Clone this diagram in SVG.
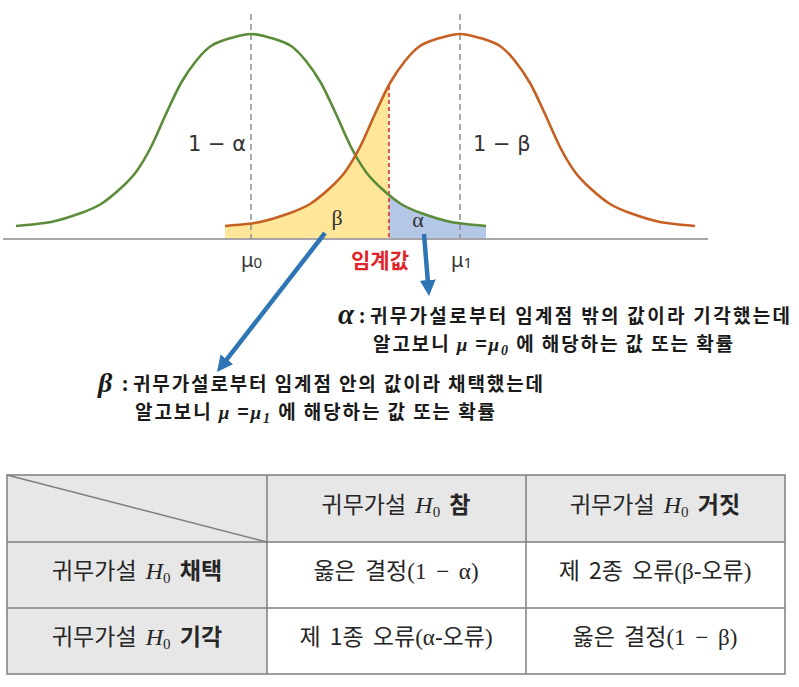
<svg xmlns="http://www.w3.org/2000/svg" width="799" height="687" viewBox="0 0 799 687">
<style>
.axis{stroke:#a6a6a6;stroke-width:2}
.guide{stroke:#8f8f8f;stroke-width:1.5;stroke-dasharray:6 4}
.crit{stroke:#d9262b;stroke-width:1.5;stroke-dasharray:4 3}
.curve{fill:none;stroke-width:2.6}
.green{stroke:#5b8c3a}
.orange{stroke:#c65f22}
.arrow{stroke:#2e75b6;stroke-width:4.5;fill:none;marker-end:url(#ah)}
.lbl{font-family:"DejaVu Sans","Noto Sans",sans-serif;fill:#333;font-size:21px}
.gk{font-family:"Liberation Serif","DejaVu Serif",serif;fill:#333;font-size:22px;text-anchor:middle}
.mu{font-family:"Noto Sans","DejaVu Sans",sans-serif;fill:#333;font-size:20px}
.crt{font-family:"Noto Sans CJK KR","Noto Sans",sans-serif;font-weight:bold;font-size:21px;fill:#e0262c;text-anchor:middle}
.ann{font-family:"Noto Sans CJK KR","Noto Sans",sans-serif;font-weight:bold;font-size:19px;fill:#1a1a1a}
.mi{font-family:"Liberation Serif","DejaVu Serif",serif;font-style:italic;font-weight:bold;fill:#1a1a1a}
.tb{font-family:"Noto Sans CJK KR","Noto Sans",sans-serif;font-size:23px;fill:#262626;text-anchor:middle;word-spacing:4px}
.b{font-weight:bold}
.ms{font-family:"Liberation Serif","DejaVu Serif",serif}
.hi{font-family:"Liberation Serif","DejaVu Serif",serif;font-style:italic;font-size:24px}
.hs{font-family:"Liberation Serif","DejaVu Serif",serif;font-size:15px}
.cell{stroke:#7f7f7f;stroke-width:1.5}
</style>
<defs>
<path id="bell" d="M-235,226 C-229.2,225.3 -210.8,224.2 -200,222 C-189.2,219.8 -178.3,216 -170,213 C-161.7,210 -156.7,208.2 -150,204 C-143.3,199.8 -135.8,193.3 -130,188 C-124.2,182.7 -120,178.8 -115,172 C-110,165.2 -105,156.7 -100,147 C-95,137.3 -90,124.7 -85,114 C-80,103.3 -75,91.8 -70,83 C-65,74.2 -60,67.2 -55,61 C-50,54.8 -45.8,49.8 -40,46 C-34.2,42.2 -26.7,40 -20,38 C-13.3,36 -6.7,34 0,34 C6.7,34 13.3,36 20,38 C26.7,40 34.2,42.2 40,46 C45.8,49.8 50,54.8 55,61 C60,67.2 65,74.2 70,83 C75,91.8 80,103.3 85,114 C90,124.7 95,137.3 100,147 C105,156.7 110,165.2 115,172 C120,178.8 124.2,182.7 130,188 C135.8,193.3 143.3,199.8 150,204 C156.7,208.2 161.7,210 170,213 C178.3,216 189.2,219.8 200,222 C210.8,224.2 229.2,225.3 235,226"/>
<path id="bellA" d="M-235,226 C-229.2,225.3 -210.8,224.2 -200,222 C-189.2,219.8 -178.3,216 -170,213 C-161.7,210 -156.7,208.2 -150,204 C-143.3,199.8 -135.8,193.3 -130,188 C-124.2,182.7 -120,178.8 -115,172 C-110,165.2 -105,156.7 -100,147 C-95,137.3 -90,124.7 -85,114 C-80,103.3 -75,91.8 -70,83 C-65,74.2 -60,67.2 -55,61 C-50,54.8 -45.8,49.8 -40,46 C-34.2,42.2 -26.7,40 -20,38 C-13.3,36 -6.7,34 0,34 C6.7,34 13.3,36 20,38 C26.7,40 34.2,42.2 40,46 C45.8,49.8 50,54.8 55,61 C60,67.2 65,74.2 70,83 C75,91.8 80,103.3 85,114 C90,124.7 95,137.3 100,147 C105,156.7 110,165.2 115,172 C120,178.8 124.2,182.7 130,188 C135.8,193.3 143.3,199.8 150,204 C156.7,208.2 161.7,210 170,213 C178.3,216 189.2,219.8 200,222 C210.8,224.2 229.2,225.3 235,226 L235,239 L-235,239 Z"/>
<clipPath id="cy"><rect x="225" y="0" width="164" height="239"/></clipPath>
<clipPath id="cb"><rect x="389" y="0" width="100" height="239"/></clipPath>
<marker id="ah" viewBox="0 0 16 16" refX="2" refY="8" markerWidth="16" markerHeight="16" markerUnits="userSpaceOnUse" orient="auto"><path d="M0,0 L16,8 L0,16 Z" fill="#2e75b6"/></marker>
</defs>
<rect width="799" height="687" fill="#ffffff"/>

<g id="chart">
<g id="beta-area" clip-path="url(#cy)"><use href="#bellA" transform="translate(460,0)" fill="#ffe699"/></g>
<g id="alpha-area" clip-path="url(#cb)"><use href="#bellA" transform="translate(251,0)" fill="#b4c7e7"/></g>
<line id="axis" class="axis" x1="3" y1="239" x2="708" y2="239"/>
<line class="guide" x1="251" y1="14" x2="251" y2="239"/>
<line class="guide" x1="460" y1="14" x2="460" y2="239"/>
<line class="crit" x1="389" y1="86" x2="389" y2="239"/>
<use id="h0-curve" href="#bell" class="curve green" transform="translate(251,0)"/>
<use id="h1-curve" href="#bell" class="curve orange" transform="translate(460,0)"/>
<text class="lbl" x="188" y="151">1 − α</text>
<text class="lbl" x="473" y="151">1 − β</text>
<text class="gk" x="337" y="225">β</text>
<text class="gk" x="418" y="227">α</text>
<text class="mu" x="241" y="267">μ<tspan font-size="15" dy="1">0</tspan></text>
<text class="mu" x="451" y="267">μ<tspan font-size="15" dy="1">1</tspan></text>
<text id="critical" class="crt" x="380" y="268">임계값</text>
</g>

<g id="connectors">
<line class="arrow" x1="325" y1="233" x2="225.6" y2="360.9"/>
<line class="arrow" x1="424" y1="234" x2="427.9" y2="282"/>
</g>

<g id="note-alpha">
<text x="338" y="324" class="mi" font-size="29">α</text>
<text x="359" y="323" class="ann">:</text>
<text x="370" y="323" class="ann" textLength="420">귀무가설로부터 임계점 밖의 값이라 기각했는데</text>
<text x="373" y="351" class="ann" textLength="360">알고보니 <tspan class="mi">μ</tspan> =<tspan class="mi">μ</tspan><tspan class="mi" font-size="14" dy="4">0</tspan><tspan dy="-4"> 에 해당하는 값 또는 확률</tspan></text>
</g>

<g id="note-beta">
<text x="98" y="392" class="mi" font-size="28">β</text>
<text x="122" y="391" class="ann">:</text>
<text x="133" y="391" class="ann" textLength="410">귀무가설로부터 임계점 안의 값이라 채택했는데</text>
<text x="135" y="419" class="ann" textLength="360">알고보니 <tspan class="mi">μ</tspan> =<tspan class="mi">μ</tspan><tspan class="mi" font-size="14" dy="4">1</tspan><tspan dy="-4"> 에 해당하는 값 또는 확률</tspan></text>
</g>

<g id="table">
<rect x="7" y="475" width="778" height="67" fill="#e7e7e7"/>
<rect x="7" y="542" width="260" height="132" fill="#e7e7e7"/>
<rect class="cell" x="7" y="475" width="778" height="199" fill="none"/>
<line class="cell" x1="267" y1="475" x2="267" y2="674"/>
<line class="cell" x1="526" y1="475" x2="526" y2="674"/>
<line class="cell" x1="7" y1="542" x2="785" y2="542"/>
<line class="cell" x1="7" y1="608" x2="785" y2="608"/>
<line class="cell" x1="7" y1="475" x2="267" y2="542"/>
<g id="h-true"><text x="396" y="513" class="tb">귀무가설 <tspan class="hi">H</tspan><tspan class="hs" dy="4">0</tspan><tspan class="b" dy="-4"> 참</tspan></text></g>
<g id="h-false"><text x="655" y="513" class="tb">귀무가설 <tspan class="hi">H</tspan><tspan class="hs" dy="4">0</tspan><tspan class="b" dy="-4"> 거짓</tspan></text></g>
<g id="r-accept"><text x="137" y="579" class="tb">귀무가설 <tspan class="hi">H</tspan><tspan class="hs" dy="4">0</tspan><tspan class="b" dy="-4"> 채택</tspan></text></g>
<g id="r-reject"><text x="137" y="645" class="tb">귀무가설 <tspan class="hi">H</tspan><tspan class="hs" dy="4">0</tspan><tspan class="b" dy="-4"> 기각</tspan></text></g>
<g id="c-11"><text x="396" y="579" class="tb">옳은 결정<tspan class="ms">(1 − α)</tspan></text></g>
<g id="c-12"><text x="655" y="579" class="tb">제 2종 오류<tspan class="ms">(β-</tspan>오류<tspan class="ms">)</tspan></text></g>
<g id="c-21"><text x="396" y="645" class="tb">제 1종 오류<tspan class="ms">(α-</tspan>오류<tspan class="ms">)</tspan></text></g>
<g id="c-22"><text x="655" y="645" class="tb">옳은 결정<tspan class="ms">(1 − β)</tspan></text></g>
</g>
</svg>
